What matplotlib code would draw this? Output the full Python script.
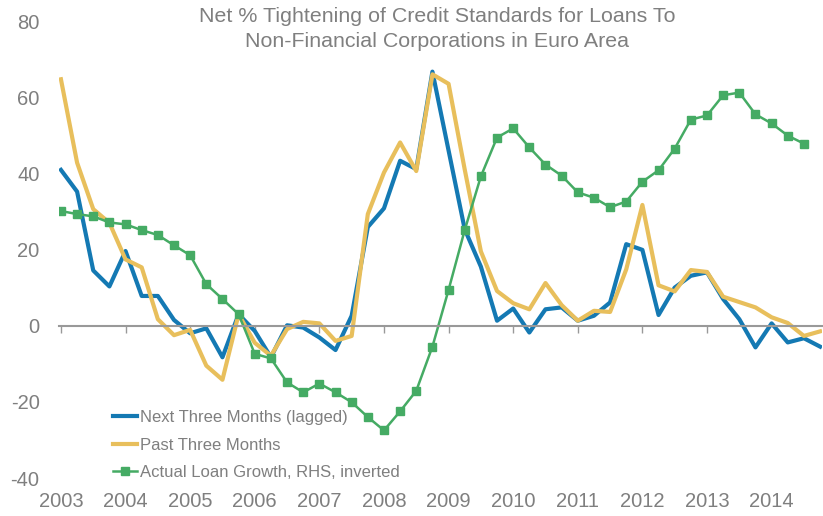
import numpy as np
import matplotlib
matplotlib.use('Agg')
import matplotlib.pyplot as plt

# Datos trimestrales desde 2003 T1
proximos_tres_meses = [40.9, 35.2, 14.5, 10.3, 19.6, 7.8, 7.8, 1.5, -2.0, -0.7,
                       -8.3, 3.0, -1.4, -8.3, 0.1, -0.5, -3.1, -6.4, 2.6, 25.9,
                       30.8, 43.3, 41.1, 66.7, 46.0, 25.3, 15.5, 1.3, 4.5, -1.8,
                       4.3, 4.8, 1.3, 2.6, 6.1, 21.4, 19.9, 2.8, 10.0, 13.1,
                       14.0, 7.0, 1.7, -5.7, 0.6, -4.4, -3.3, -5.5]
ultimos_tres_meses = [64.7, 42.8, 30.6, 27.0, 17.4, 15.3, 1.7, -2.5, -1.1, -10.5,
                      -14.2, 3.0, -4.5, -7.9, -0.9, 1.0, 0.6, -4.0, -2.7, 29.3,
                      40.2, 48.1, 40.6, 66.0, 63.5, 41.0, 19.5, 9.1, 5.9, 4.3,
                      11.2, 5.4, 1.3, 3.9, 3.6, 14.8, 31.7, 10.6, 9.0, 14.6,
                      14.1, 7.6, 6.2, 4.8, 2.2, 0.7, -2.7, -1.5]
crecimiento_prestamos = [30.1, 29.3, 28.7, 27.1, 26.6, 25.1, 23.8, 21.1, 18.5, 10.9,
                         7.0, 3.0, -7.4, -8.6, -14.9, -17.5, -15.2, -17.5, -20.1, -24.0,
                         -27.5, -22.5, -17.1, -5.5, 9.4, 25.1, 39.2, 49.4, 51.8, 46.8,
                         42.3, 39.4, 35.0, 33.6, 31.1, 32.6, 37.8, 40.8, 46.5, 54.1,
                         55.2, 60.5, 61.2, 55.5, 53.1, 49.9, 47.8]
anios = list(range(2003, 2015))

fechas = 2003 + np.arange(len(proximos_tres_meses)) * 0.25
fechas_verde = fechas[:len(crecimiento_prestamos)]

gris = '#7f7f7f'
plt.rcParams['font.family'] = ['Liberation Sans', 'DejaVu Sans']
plt.rcParams['axes.unicode_minus'] = False

fig = plt.figure(figsize=(8.23, 5.16), dpi=100)
ax = fig.add_axes([59 / 823, 1 - 478 / 516, 763 / 823, 457 / 516])

ax.plot(fechas, proximos_tres_meses, color='#1479b3', lw=3, label='Next Three Months (lagged)')
ax.plot(fechas, ultimos_tres_meses, color='#e8bf5c', lw=3, label='Past Three Months')
ax.plot(fechas_verde, crecimiento_prestamos, color='#45ab64', lw=1.8, marker='s', markersize=6,
        label='Actual Loan Growth, RHS, inverted')

ax.set_xlim(2002.97, 2014.78)
ax.set_ylim(-40, 80)

# eje x sobre el cero, etiquetas abajo
for lado in ['top', 'right', 'left']:
    ax.spines[lado].set_visible(False)
ax.spines['bottom'].set_position(('data', 0))
ax.spines['bottom'].set_color('#999999')
ax.spines['bottom'].set_linewidth(1.5)
ax.set_xticks(anios[:-1])
ax.tick_params(axis='x', direction='out', length=5, width=1, color='#999999', labelbottom=False)
ax.set_zorder(1)

ax_etiquetas = ax.secondary_xaxis(0)
ax_etiquetas.set_xticks(anios)
ax_etiquetas.set_xticklabels([str(a) for a in anios])
ax_etiquetas.tick_params(length=0, pad=10, labelsize=14.5, labelcolor=gris)
ax_etiquetas.spines['bottom'].set_visible(False)

ax.set_yticks(range(-40, 81, 20))
ax.tick_params(axis='y', length=0, pad=14, labelsize=14.5, labelcolor=gris)

fig.text(437 / 823, 1 - 7 / 516, 'Net % Tightening of Credit Standards for Loans To\nNon-Financial Corporations in Euro Area',
         ha='center', va='top', fontsize=15.4, color=gris, linespacing=1.4)

ax.legend(loc='upper left', bbox_to_anchor=((113 - 59) / 763, (478 - 410) / 457), frameon=False,
          fontsize=12, labelcolor=gris, handlelength=1.45, handletextpad=0.2,
          labelspacing=0.75, borderpad=0, borderaxespad=0)

plt.savefig('out.png', dpi=100)
